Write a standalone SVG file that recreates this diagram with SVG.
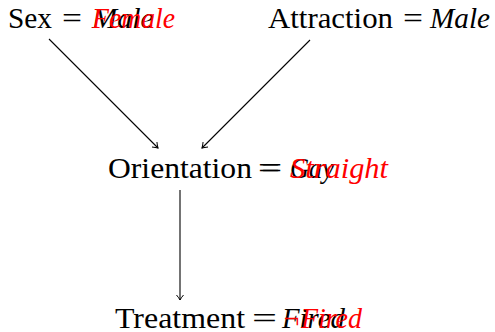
<svg xmlns="http://www.w3.org/2000/svg" width="495" height="332" viewBox="0 0 495 332">
<defs>
<style>
text{font-family:"Liberation Serif","Times New Roman",serif;font-size:30px;fill:#000}
.v{font-style:italic}
.r{fill:#ff0000}
.c{stroke:#000;stroke-width:1.1;fill:none}
</style>
<marker id="ah" markerWidth="10" markerHeight="10" refX="7" refY="5" orient="auto" markerUnits="userSpaceOnUse">
<path d="M2,1.5 Q5,4 7,5 Q5,6 2,8.5" fill="none" stroke="#000" stroke-width="1"/>
</marker>
</defs>
<rect width="495" height="332" fill="#fff"/>
<g id="connectors">
<line class="c" x1="49" y1="39" x2="158" y2="148" marker-end="url(#ah)"/>
<line class="c" x1="310" y1="40" x2="202" y2="148" marker-end="url(#ah)"/>
<line class="c" x1="180" y1="190" x2="180" y2="300" marker-end="url(#ah)"/>
</g>
<g id="sex">
<text x="8" y="28" textLength="44" lengthAdjust="spacingAndGlyphs">Sex</text>
<text x="62" y="28" textLength="20" lengthAdjust="spacingAndGlyphs">=</text>
<text class="v" x="92" y="28" textLength="62" lengthAdjust="spacingAndGlyphs">Male</text>
<text class="v r" x="92" y="28" textLength="83" lengthAdjust="spacingAndGlyphs">Female</text>
</g>
<g id="attraction">
<text x="268" y="28" textLength="125" lengthAdjust="spacingAndGlyphs">Attraction</text>
<text x="403" y="28" textLength="20" lengthAdjust="spacingAndGlyphs">=</text>
<text class="v" x="430" y="28" textLength="60" lengthAdjust="spacingAndGlyphs">Male</text>
</g>
<g id="orientation">
<text x="108" y="178" textLength="144" lengthAdjust="spacingAndGlyphs">Orientation</text>
<text x="258" y="178" textLength="22" lengthAdjust="spacingAndGlyphs">=</text>
<text x="261" y="178" textLength="21" lengthAdjust="spacingAndGlyphs">=</text>
<text class="v" x="290" y="178" textLength="44" lengthAdjust="spacingAndGlyphs">Gay</text>
<text class="v r" x="290" y="178" textLength="98" lengthAdjust="spacingAndGlyphs">Straight</text>
</g>
<g id="treatment">
<text x="115" y="328" textLength="130" lengthAdjust="spacingAndGlyphs">Treatment</text>
<text x="252" y="328" textLength="25" lengthAdjust="spacingAndGlyphs">=</text>
<text class="v" x="282" y="328" textLength="63" lengthAdjust="spacingAndGlyphs">Fired</text>
<text class="v r" x="282" y="328" textLength="80" lengthAdjust="spacingAndGlyphs">¬Fired</text>
</g>
</svg>
